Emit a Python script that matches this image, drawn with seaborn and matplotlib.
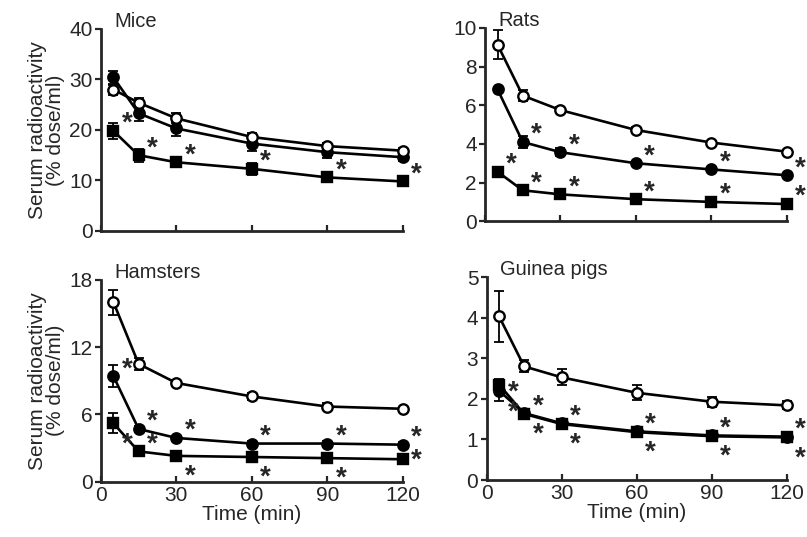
import numpy as np
import pandas as pd
import matplotlib
matplotlib.use("Agg")
import matplotlib.pyplot as plt
import seaborn as sns

# sampling times (min)
time_min = [5, 15, 30, 60, 90, 120]

# serum radioactivity (% dose/ml): open circle, filled circle, filled square
mice_open = [28.0, 25.4, 22.3, 18.6, 16.8, 15.9]
mice_filled = [30.4, 23.3, 20.3, 17.3, 15.6, 14.6]
mice_square = [19.8, 15.0, 13.6, 12.3, 10.6, 9.8]
mice_open_err = [1.0, 1.0, 1.0, 0.8, 0.6, 0.5]
mice_filled_err = [1.3, 1.5, 1.5, 1.5, 1.2, 0.8]
mice_square_err = [1.5, 1.3, 0.8, 1.2, 0.8, 0.5]

rats_open = [9.13, 6.5, 5.75, 4.72, 4.07, 3.6]
rats_filled = [6.82, 4.1, 3.57, 3.0, 2.68, 2.38]
rats_square = [2.56, 1.6, 1.39, 1.14, 1.0, 0.89]
rats_open_err = [0.75, 0.3, 0.15, 0.15, 0.1, 0.1]
rats_filled_err = [0.1, 0.3, 0.2, 0.1, 0.1, 0.1]
rats_square_err = [0.1, 0.15, 0.1, 0.1, 0.05, 0.05]

hamsters_open = [16.0, 10.5, 8.8, 7.6, 6.7, 6.5]
hamsters_filled = [9.4, 4.7, 3.9, 3.4, 3.4, 3.3]
hamsters_square = [5.2, 2.7, 2.3, 2.2, 2.1, 2.0]
hamsters_open_err = [1.1, 0.5, 0.3, 0.3, 0.3, 0.2]
hamsters_filled_err = [1.0, 0.3, 0.2, 0.2, 0.2, 0.2]
hamsters_square_err = [0.9, 0.2, 0.2, 0.2, 0.2, 0.2]

guinea_open = [4.03, 2.8, 2.53, 2.15, 1.93, 1.84]
guinea_filled = [2.2, 1.65, 1.4, 1.2, 1.1, 1.07]
guinea_square = [2.35, 1.63, 1.38, 1.18, 1.08, 1.05]
guinea_open_err = [0.63, 0.15, 0.2, 0.18, 0.12, 0.1]
guinea_filled_err = [0.25, 0.08, 0.05, 0.05, 0.05, 0.05]
guinea_square_err = [0.15, 0.05, 0.05, 0.05, 0.05, 0.05]

# significance marks: 0 = none, 1 = star above right, 2 = star right,
# -1 = star below right, -2 = star well below right
mice_filled_sig = [0, 0, 0, 0, 0, 0]
mice_square_sig = [1, 1, 1, 1, 1, 1]
rats_filled_sig = [0, 1, 1, 1, 1, 1]
rats_square_sig = [1, 1, 1, 1, 1, 1]
hamsters_filled_sig = [1, 1, 1, 1, 1, 1]
hamsters_square_sig = [-1, 1, -1, -1, -1, 2]
guinea_filled_sig = [2, 1, 1, 1, 1, 1]
guinea_square_sig = [-2, -1, -1, -1, -1, -1]

panels = [
    ("Mice", [0, 10, 20, 30, 40], mice_open, mice_filled, mice_square,
     mice_open_err, mice_filled_err, mice_square_err, mice_filled_sig, mice_square_sig),
    ("Rats", [0, 2, 4, 6, 8, 10], rats_open, rats_filled, rats_square,
     rats_open_err, rats_filled_err, rats_square_err, rats_filled_sig, rats_square_sig),
    ("Hamsters", [0, 6, 12, 18], hamsters_open, hamsters_filled, hamsters_square,
     hamsters_open_err, hamsters_filled_err, hamsters_square_err, hamsters_filled_sig, hamsters_square_sig),
    ("Guinea pigs", [0, 1, 2, 3, 4, 5], guinea_open, guinea_filled, guinea_square,
     guinea_open_err, guinea_filled_err, guinea_square_err, guinea_filled_sig, guinea_square_sig),
]

sns.set_style("ticks")
plt.rcParams["font.family"] = ["Liberation Sans", "DejaVu Sans"]

FS = 15
star_dy = {1: 5, 2: -1, -1: -15, -2: -20}

fig = plt.figure(figsize=(8.07, 5.37), dpi=100)
rects = [
    [0.125, 0.570, 0.374, 0.376],
    [0.601, 0.588, 0.374, 0.360],
    [0.125, 0.103, 0.374, 0.376],
    [0.603, 0.106, 0.372, 0.378],
]

for i, (name, yticks, s_open, s_filled, s_square, e_open, e_filled, e_square, sig_f, sig_s) in enumerate(panels):
    ax = fig.add_axes(rects[i])
    df = pd.DataFrame({"t": time_min, "open": s_open, "filled": s_filled, "square": s_square})

    for col, err, mk, fc in [("square", e_square, "s", "black"),
                             ("filled", e_filled, "o", "black"),
                             ("open", e_open, "o", "white")]:
        ax.errorbar(df["t"], df[col], yerr=err, fmt="none", ecolor="black",
                    elinewidth=1.3, capsize=3.5, capthick=1.3, zorder=2, clip_on=False)
        sns.lineplot(data=df, x="t", y=col, ax=ax, color="black", linewidth=1.9,
                     marker=mk, markersize=7.5 if mk == "o" else 7,
                     markerfacecolor=fc, markeredgecolor="black", markeredgewidth=1.7,
                     zorder=3, clip_on=False)

    for vals, sig in [(s_filled, sig_f), (s_square, sig_s)]:
        for t, v, s in zip(time_min, vals, sig):
            if s == 0:
                continue
            ax.annotate("*", (t, v), xytext=(6, star_dy[s]), textcoords="offset points",
                        fontsize=20, fontweight="bold", ha="left", va="center",
                        annotation_clip=False)

    ax.set_xlim(0, 120)
    ax.set_ylim(yticks[0], yticks[-1])
    ax.set_xticks([0, 30, 60, 90, 120])
    ax.set_yticks(yticks)
    ax.tick_params(axis="x", direction="in", length=4, width=1.6, labelsize=FS, pad=3)
    ax.tick_params(axis="y", direction="out", length=4, width=1.6, labelsize=FS, pad=2)
    for side in ["left", "bottom"]:
        ax.spines[side].set_linewidth(2.0)
    sns.despine(ax=ax)
    ax.text(0.045, 0.99, name, transform=ax.transAxes, fontsize=14.5,
            ha="left", va="bottom")

    if i < 2:
        ax.set_xticklabels([])
        ax.set_xlabel("")
    else:
        ax.set_xlabel("Time (min)", fontsize=FS, labelpad=0)
    if i % 2 == 0:
        ax.set_ylabel("Serum radioactivity\n(% dose/ml)", fontsize=FS,
                      linespacing=0.95, labelpad=3)
    else:
        ax.set_ylabel("")

fig.savefig("out.png", dpi=100)
